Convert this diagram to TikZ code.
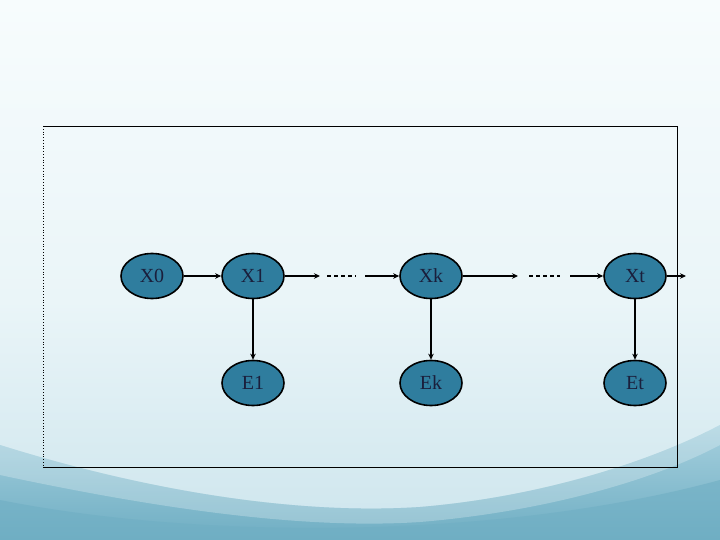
\documentclass[tikz,border=0pt]{standalone}
\usepackage{fontspec}
\setmainfont{Liberation Serif}
\usetikzlibrary{arrows.meta,shapes.geometric}
\definecolor{nodefill}{HTML}{2F7D9E}
\definecolor{nodetext}{HTML}{1A1F3C}
\definecolor{bgtop}{HTML}{F7FCFD}
\definecolor{bgmid}{HTML}{EAF5F8}
\definecolor{bglow}{HTML}{CDE5ED}
\definecolor{tealA}{HTML}{A6D0DE}
\definecolor{tealB}{HTML}{6FAEC3}
\tikzset{
  state/.style={ellipse, draw=black, line width=1.6pt, fill=nodefill,
    minimum width=62pt, minimum height=45pt, inner sep=0pt,
    text=nodetext, font=\fontsize{20}{22}\selectfont},
  arr/.style={line width=1.5pt, -{Stealth[length=6pt,width=5.5pt]}},
  dsh/.style={line width=1.5pt, dash pattern=on 4pt off 3pt}
}
\begin{document}
\begin{tikzpicture}[x=1pt,y=-1pt]
\useasboundingbox (0,0) rectangle (720,540);
% background
\shade[top color=bgtop, bottom color=bgmid] (0,0) rectangle (720,300);
\shade[top color=bgmid, bottom color=bglow] (0,300) rectangle (720,540);
\shade[top color=tealA, bottom color=tealB]
  (0,445) .. controls (150,492) and (300,515) .. (420,507)
  .. controls (540,497) and (650,462) .. (720,425) -- (720,540) -- (0,540) -- cycle;
\fill[white, opacity=0.25]
  (0,445) .. controls (150,492) and (300,515) .. (420,507)
  .. controls (540,497) and (650,462) .. (720,425) -- (720,445)
  .. controls (650,482) and (540,512) .. (420,522)
  .. controls (300,530) and (150,507) .. (0,475) -- cycle;
\shade[top color=tealB!80!tealA, bottom color=tealB]
  (0,500) .. controls (200,540) and (500,540) .. (720,480) -- (720,540) -- (0,540) -- cycle;
% frame
\draw[line width=0.8pt] (43,126) -- (677,126) -- (677,467) -- (43,467);
\draw[line width=0.8pt, dotted] (43,126) -- (43,467);
% nodes
\node[state] (x0) at (152,276) {X0};
\node[state] (x1) at (253,276) {X1};
\node[state] (xk) at (431,276) {Xk};
\node[state] (xt) at (635,276) {Xt};
\node[state] (e1) at (253,383) {E1};
\node[state] (ek) at (431,383) {Ek};
\node[state] (et) at (635,383) {Et};
% coordinates for chain gaps
\coordinate (a1) at (320,276);
\coordinate (d1s) at (327,276);
\coordinate (d1e) at (356,276);
\coordinate (b1) at (365,276);
\coordinate (a2) at (518,276);
\coordinate (d2s) at (529,276);
\coordinate (d2e) at (560,276);
\coordinate (b2) at (570,276);
\coordinate (out) at (686,276);
% connectors
\draw[arr] (x0.east) -- (x1.west);
\draw[arr] (x1.east) -- (a1);
\draw[dsh] (d1s) -- (d1e);
\draw[arr] (b1) -- (xk.west);
\draw[arr] (xk.east) -- (a2);
\draw[dsh] (d2s) -- (d2e);
\draw[arr] (b2) -- (xt.west);
\draw[arr] (xt.east) -- (out);
\draw[arr] (x1.south) -- (e1.north);
\draw[arr] (xk.south) -- (ek.north);
\draw[arr] (xt.south) -- (et.north);
\end{tikzpicture}
\end{document}
